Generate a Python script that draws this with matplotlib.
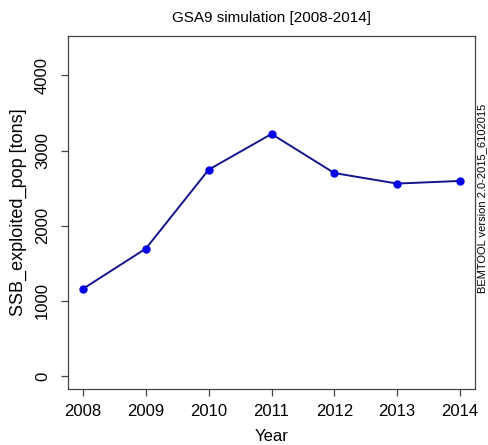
import matplotlib
matplotlib.use("Agg")
import matplotlib.pyplot as plt

plt.rcParams['font.family'] = ['Liberation Sans', 'DejaVu Sans']

years = [2008, 2009, 2010, 2011, 2012, 2013, 2014]
ssb = [1160, 1695, 2745, 3220, 2700, 2560, 2595]
yticks = [0, 1000, 2000, 3000, 4000]

fig = plt.figure(figsize=(4.89, 4.45), dpi=100)
ax = fig.add_axes([68/489, 1 - 389/445, (475 - 68)/489, (389 - 36)/445])

ax.plot(years, ssb, color='#14148c', linewidth=1.4, zorder=2)
ax.plot(years, ssb, linestyle='none', marker='o', markersize=5,
        color='#0000e6', zorder=3)

ax.set_xlim(2008 - 6*0.04, 2014 + 6*0.04)
ax.set_ylim(-174, 4524)
ax.set_xticks(years)
ax.set_yticks(yticks)
ax.set_yticklabels([str(v) for v in yticks], rotation=90, va='center')

for s in ax.spines.values():
    s.set_color('#444444')
    s.set_linewidth(0.9)
ax.tick_params(axis='both', colors='#444444', labelcolor='black',
               length=5, width=0.9, labelsize=12)
ax.tick_params(axis='x', pad=6)
ax.tick_params(axis='y', pad=8)

ax.set_xlabel('Year', fontsize=12, labelpad=7)
ax.set_ylabel('SSB_exploited_pop [tons]', fontsize=13, labelpad=6)
ax.set_title('GSA9 simulation [2008-2014]', fontsize=11, pad=10)

fig.text(482/489, 1 - 198/445, 'BEMTOOL version 2.0-2015_6102015',
         rotation=90, fontsize=8, ha='center', va='center')

fig.savefig('out.png', dpi=100)
